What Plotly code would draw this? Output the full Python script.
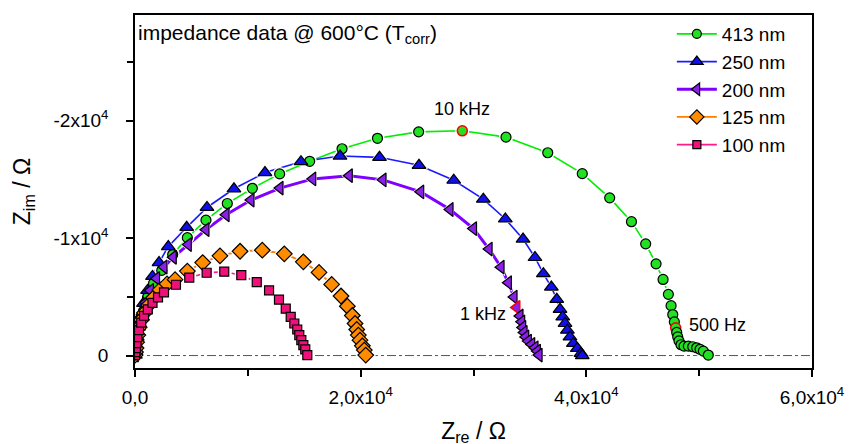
import plotly.graph_objects as go

# ---- data (Ohm); y = -Z_im ----
labels = ["413 nm", "250 nm", "200 nm", "125 nm", "100 nm"]

zre_413 = [30, 60, 115, 195, 310, 490, 750, 1110, 1640, 2370, 3340, 4640, 6290, 8180, 10400,
           12820, 15480, 18350, 21490, 25140, 29010, 32880, 36580, 39640, 42070, 44000, 45260,
           46180, 46800, 47270, 47510, 47660, 47800, 47920, 48010, 48100, 48210, 48390, 48660,
           49040, 49430, 49780, 50080, 50370, 50810]
zim_413 = [40, 300, 640, 1140, 1820, 2670, 3770, 4960, 6140, 7250, 8600, 10040, 11530, 12950,
           14240, 15470, 16540, 17610, 18500, 19050, 19140, 18600, 17270, 15490, 13430, 11400,
           9510, 7810, 6480, 5210, 4250, 3490, 2860, 2360, 1970, 1590, 1250, 920, 800, 800, 750,
           660, 530, 380, 40]

zre_250 = [30, 70, 130, 200, 310, 490, 750, 1110, 1550, 2130, 2950, 4580, 6380, 8770, 11520,
           14710, 18170, 21670, 25170, 28250, 30870, 32820, 34390, 35450, 36190, 36900, 37380,
           37670, 37910, 38110, 38320, 38550, 38850, 39200, 39530, 39640]
zim_250 = [40, 380, 890, 1570, 2420, 3350, 4450, 5550, 6740, 7920, 9280, 10920, 12610, 14200,
           15580, 16510, 16990, 16880, 16200, 14930, 13320, 11630, 9920, 8350, 6970, 5830, 4790,
           3940, 3290, 2730, 2160, 1590, 1030, 610, 190, 0]

zre_200 = [20, 55, 105, 180, 265, 420, 650, 975, 1370, 1910, 2570, 3390, 4720, 6290, 8070,
           10280, 12850, 15750, 18990, 21980, 25320, 27920, 30000, 31380, 32440, 33090, 33590,
           33830, 34120, 34270, 34360, 34480, 34630, 34860, 35160, 35450, 35660, 35810]
zim_200 = [40, 300, 720, 1230, 1820, 2590, 3520, 4530, 5550, 6570, 7540, 8370, 9450, 10720,
           11990, 13240, 14260, 15040, 15320, 14960, 13940, 12440, 10810, 9070, 7530, 6200, 4980,
           4090, 3370, 2870, 2390, 1970, 1590, 1230, 950, 660, 380, 40]

zre_125 = [10, 45, 90, 150, 250, 380, 575, 840, 1200, 1640, 2220, 2840, 3550, 4640, 6000, 7530,
           9310, 11280, 13230, 14920, 16310, 17430, 18260, 18820, 19260, 19500, 19650, 19790,
           19940, 20150, 20320, 20450]
zim_125 = [40, 300, 640, 1140, 1740, 2420, 3050, 3640, 4280, 4920, 5590, 6100, 6460, 7190, 7920,
           8490, 8880, 8970, 8660, 7980, 7080, 6060, 5070, 4200, 3410, 2730, 2220, 1740, 1310,
           830, 470, 40]

zre_100 = [10, 35, 80, 140, 220, 355, 550, 800, 1130, 1550, 2040, 2570, 3630, 4810, 6350, 7910,
           9420, 10790, 11880, 12760, 13360, 13800, 14120, 14380, 14560, 14740, 14920, 15090, 15270]
zim_100 = [40, 300, 640, 1060, 1570, 2160, 2800, 3390, 3940, 4490, 4960, 5380, 6030, 6630, 7050,
           7140, 6850, 6250, 5550, 4760, 3990, 3290, 2730, 2220, 1740, 1310, 890, 530, 40]

# highlighted frequency points: (series index, point index, label)
hl_series = [0, 2, 0]
hl_point = [20, 27, 33]
hl_text = ["10 kHz", "1 kHz", "500 Hz"]

x_tickvals = [0, 20000, 40000, 60000]
x_ticktext = ["0,0", "2,0x10<sup>4</sup>", "4,0x10<sup>4</sup>", "6,0x10<sup>4</sup>"]
y_tickvals = [0, 10000, 20000]
y_ticktext = ["0", "-1x10<sup>4</sup>", "-2x10<sup>4</sup>"]

xs = [zre_413, zre_250, zre_200, zre_125, zre_100]
ys = [zim_413, zim_250, zim_200, zim_125, zim_100]

line_colors = ["#00ee00", "#1a1aff", "#8000ff", "#ff8000", "#ff1a8c"]
fill_colors = ["#22e022", "#1010e8", "#8a1fe8", "#ff8c00", "#f0107a"]
symbols = ["circle", "triangle-up", "triangle-left", "diamond", "square"]
sizes = [10, 12, 12, 12, 9]
dashes = ["solid", "solid", "solid", "solid", "dash"]
widths = [1.6, 1.6, 3, 2, 1.6]

FONT = "Liberation Sans, Arial, sans-serif"

fig = go.Figure()

# 1) connecting lines
for i in range(5):
    fig.add_trace(go.Scatter(
        x=xs[i], y=ys[i], mode="lines", showlegend=False, hoverinfo="skip",
        line=dict(color=line_colors[i], width=widths[i], dash=dashes[i]),
    ))
# 2) white halos (line gaps around symbols)
for i in range(5):
    fig.add_trace(go.Scatter(
        x=xs[i], y=ys[i], mode="markers", showlegend=False, hoverinfo="skip",
        marker=dict(symbol=symbols[i], size=sizes[i] + 4, color="white",
                    line=dict(width=0)),
    ))
# 3) symbols
for i in range(5):
    lc = ["black"] * len(xs[i])
    lw = [1.2] * len(xs[i])
    for s, p in zip(hl_series, hl_point):
        if s == i:
            lc[p] = "red"
            lw[p] = 1.6
    fig.add_trace(go.Scatter(
        x=xs[i], y=ys[i], mode="markers", showlegend=False, name=labels[i],
        marker=dict(symbol=symbols[i], size=sizes[i], color=fill_colors[i],
                    line=dict(color=lc, width=lw)),
    ))
# 4) legend entries
for i in range(5):
    fig.add_trace(go.Scatter(
        x=[None], y=[None], mode="lines+markers", name=labels[i],
        line=dict(color=line_colors[i], width=1.8 if i != 2 else 3),
        marker=dict(symbol=symbols[i], size=sizes[i] - 1, color=fill_colors[i],
                    line=dict(color="black", width=1.2)),
    ))

# zero line
fig.add_shape(type="line", xref="paper", yref="y", x0=0, x1=1, y0=0, y1=0,
              line=dict(color="#555555", width=1, dash="dashdot"), layer="below")

# frequency annotations
offsets = {"10 kHz": (0, 22, "center"), "1 kHz": (-9, -6, "right"), "500 Hz": (11, 3, "left")}
for s, p, t in zip(hl_series, hl_point, hl_text):
    dx, dy, anc = offsets[t]
    fig.add_annotation(x=xs[s][p], y=ys[s][p], text=t, showarrow=False,
                       xshift=dx, yshift=dy, xanchor=anc, yanchor="middle",
                       font=dict(family=FONT, size=18, color="black"))

fig.add_annotation(xref="paper", yref="paper", x=0.002, y=0.99, xanchor="left", yanchor="top",
                   text="impedance data @ 600°C (T<sub>corr</sub>)", showarrow=False,
                   font=dict(family=FONT, size=21, color="black"))

axis_common = dict(showline=True, linecolor="black", linewidth=1.5, mirror=True,
                   ticks="outside", ticklen=7, tickwidth=1.5, tickcolor="black",
                   showgrid=False, zeroline=False,
                   tickfont=dict(family=FONT, size=19, color="black"))

fig.update_xaxes(range=[0, 60000], tickvals=x_tickvals, ticktext=x_ticktext,
                 minor=dict(dtick=10000, ticks="outside", ticklen=6, tickwidth=1.5, tickcolor="black"),
                 ticklabelstandoff=4,
                 title=dict(text="Z<sub>re</sub> / Ω", font=dict(family=FONT, size=23, color="black"),
                            standoff=16),
                 **axis_common)
fig.update_yaxes(range=[-1060, 29000], tickvals=y_tickvals, ticktext=y_ticktext,
                 minor=dict(dtick=5000, ticks="outside", ticklen=6, tickwidth=1.5, tickcolor="black"),
                 ticklabelstandoff=14,
                 title=dict(text="Z<sub>im</sub> / Ω", font=dict(family=FONT, size=23, color="black"),
                            standoff=16),
                 **axis_common)

fig.update_layout(
    width=860, height=444,
    margin=dict(l=127, r=56, t=5, b=84),
    paper_bgcolor="white", plot_bgcolor="white",
    showlegend=True,
    legend=dict(x=0.793, y=1.0, xanchor="left", yanchor="top",
                bgcolor="rgba(0,0,0,0)", borderwidth=0,
                font=dict(family=FONT, size=19, color="black"),
                tracegroupgap=0, itemwidth=40),
)

fig.write_html("out.html")
